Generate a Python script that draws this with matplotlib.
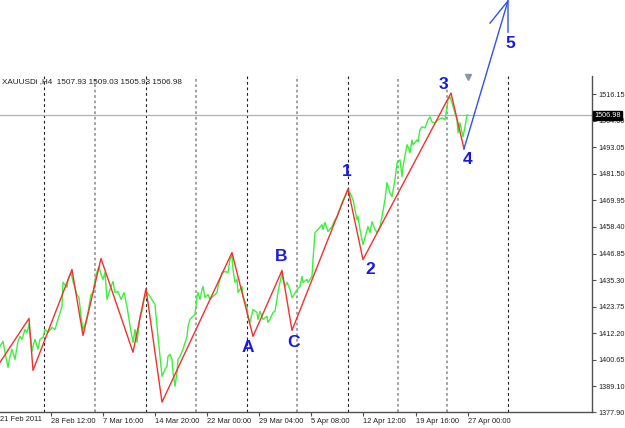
import matplotlib
matplotlib.use("Agg")
import matplotlib.pyplot as plt
from matplotlib import font_manager

# ---- data (x in H4 bar index, y in price) ----
close_x = [0, 1.5, 2.5, 3.5, 4, 5, 6, 7.5, 9, 10, 11, 12.5, 13.5, 14.5, 16, 16.5, 17.5, 19, 20, 21.5,
           22.5, 24, 26, 27.5, 29, 31, 31.5, 33.5, 34, 35.5, 36.5, 38.5, 39.5, 40.5, 41.5, 43, 44, 45.5,
           46.5, 48, 49.5, 50.5, 51.5, 52.5, 53.5, 55, 56.5, 57.5, 59, 60.5, 62, 63.5, 64.5, 65.5, 66.5,
           67.5, 68.5, 70, 71, 72, 73.5, 75, 76.5, 77.5, 78.5, 80, 81, 82.5, 83.5, 84, 85, 86, 86.5, 87.5,
           88.5, 89, 90, 91.5, 93.5, 94, 95, 96.5, 97.5, 98.5, 99, 100, 101, 101.5, 102.5, 104, 105, 106.5,
           108.5, 109, 111, 112.5, 114, 115, 116, 116.5, 117.5, 118.5, 119, 120, 121, 121.5, 122.5, 123.5,
           124, 125, 126.5, 128.5, 129, 130, 131.5, 133.5, 134, 135, 136.5, 137.5, 138.5, 139, 140, 141,
           141.5, 142.5, 143.5, 145, 146, 146.5, 148.5, 150, 151, 151.5, 153.5, 154, 156, 156.5, 157.5, 159,
           161, 161.5, 162.5, 164, 166, 167.5, 168.5, 171, 172.5, 174, 175, 176.5, 178.5, 179, 180, 181.5,
           182.5, 184, 185, 186, 187.5, 188.5, 190, 191, 192.5, 193.5, 195, 196, 197.5, 198.5, 200, 201,
           201.5, 203.5, 204, 205, 206, 206.5, 208.5, 209, 210, 211, 212.5, 214, 215, 216, 217.5, 219, 221,
           222.5, 223.5, 224, 225, 226, 227.5, 228.5, 229, 230, 231.5, 232.5, 233.5, 234]
close_y = [1406.5, 1408.6, 1403.9, 1399.5, 1397.3, 1402.1, 1405.2, 1400.8, 1408.6, 1410.8, 1409.5, 1413.8,
           1412.5, 1416.0, 1404.3, 1406.5, 1409.5, 1405.2, 1409.5, 1410.4, 1413.8, 1412.5, 1414.7, 1413.8,
           1418.2, 1423.8, 1434.3, 1432.1, 1435.6, 1438.6, 1434.7, 1429.0, 1427.7, 1419.5, 1413.8, 1417.3,
           1421.2, 1429.0, 1429.9, 1437.7, 1441.2, 1437.7, 1435.6, 1438.6, 1426.9, 1431.2, 1434.7, 1429.9,
           1430.3, 1426.9, 1429.9, 1423.8, 1418.2, 1413.0, 1408.2, 1413.8, 1408.2, 1419.5, 1421.7, 1426.9,
           1429.9, 1428.2, 1426.0, 1424.7, 1415.1, 1402.1, 1393.4, 1396.5, 1397.8, 1402.1, 1403.0, 1400.8,
           1395.2, 1389.1, 1395.2, 1400.8, 1402.1, 1405.2, 1410.8, 1415.1, 1418.2, 1419.5, 1420.4, 1428.2,
           1429.9, 1426.9, 1431.2, 1432.5, 1427.7, 1429.0, 1426.9, 1428.2, 1429.9, 1432.5, 1438.6, 1439.0,
           1438.6, 1444.2, 1446.4, 1439.9, 1434.3, 1435.6, 1429.9, 1431.2, 1432.5, 1428.2, 1426.0, 1423.8,
           1419.5, 1416.9, 1422.5, 1421.2, 1418.2, 1421.7, 1418.2, 1419.5, 1416.9, 1418.2, 1421.2, 1421.7,
           1426.9, 1430.3, 1434.3, 1438.6, 1435.6, 1432.5, 1434.3, 1431.2, 1427.7, 1428.2, 1431.2, 1432.5,
           1436.9, 1434.3, 1435.6, 1434.3, 1436.9, 1444.2, 1456.0, 1457.3, 1459.4, 1457.3, 1460.3, 1456.4,
           1458.6, 1461.6, 1462.9, 1469.0, 1471.6, 1474.6, 1473.3, 1470.3, 1461.6, 1462.9, 1457.3, 1450.7,
           1453.8, 1458.6, 1456.0, 1460.7, 1457.3, 1456.0, 1458.6, 1462.9, 1470.3, 1477.7, 1473.3, 1471.6,
           1479.0, 1486.3, 1487.6, 1480.3, 1484.6, 1494.2, 1493.3, 1490.7, 1496.3, 1494.2, 1496.3, 1495.5,
           1500.7, 1502.0, 1501.5, 1505.0, 1506.3, 1504.1, 1503.7, 1505.0, 1505.9, 1505.0, 1510.6, 1513.7,
           1515.0, 1512.4, 1508.0, 1505.0, 1499.4, 1503.7, 1497.6, 1502.0, 1507.2, 1506.98]

zigzag_x = [0, 14.5, 16.5, 36, 41.5, 50.5, 66.5, 73, 81, 116, 126.5, 141, 146, 174, 181.5, 225.5, 232]
zigzag_y = [1399.5, 1418.6, 1396.0, 1439.9, 1411.2, 1444.7, 1403.9, 1431.6, 1382.2, 1447.3, 1410.8,
            1439.5, 1413.4, 1475.0, 1444.2, 1516.7, 1492.4]

forecast_x = [232, 254]
forecast_y = [1492.4, 1556.8]
arrow_x = [245, 254, 254]
arrow_y = [1547.1, 1556.8, 1543.2]

wave_labels = ["1", "2", "3", "4", "5", "A", "B", "C"]
wave_x = [173.5, 185, 221.5, 234, 255, 124, 140.5, 147]
wave_y = [1482.4, 1439.9, 1520.2, 1487.6, 1538.4, 1406.0, 1445.5, 1408.2]

price_ticks = [1377.90, 1389.10, 1400.65, 1412.20, 1423.75, 1435.30, 1446.85, 1458.40,
               1469.95, 1481.50, 1493.05, 1504.60, 1516.15]
time_tick_x = [25.5, 51.5, 77.5, 103.5, 129.5, 155.5, 181.5, 208, 234]
time_tick_labels = ["28 Feb 12:00", "7 Mar 16:00", "14 Mar 20:00", "22 Mar 00:00", "29 Mar 04:00",
                    "5 Apr 08:00", "12 Apr 12:00", "19 Apr 16:00", "27 Apr 00:00"]
first_time_label = "21 Feb 2011"
first_time_x = 0.0

sep_major_x = [22, 73, 123.5, 174, 254]
sep_minor_x = [47.5, 98, 148.5, 199, 223.5]

last_price = 1506.98
header = "XAUUSDi ,H4  1507.93 1509.03 1505.93 1506.98"

# ---- fonts ----
installed = {f.name for f in font_manager.fontManager.ttflist}
small_font = "Liberation Sans Narrow" if "Liberation Sans Narrow" in installed else "Liberation Sans"
small_size = 6.5 if small_font == "Liberation Sans Narrow" else 5.4
ylab_size = 6.3 if small_font == "Liberation Sans Narrow" else 5.2
label_font = "Liberation Sans"

# ---- figure ----
W, H = 625, 428
fig = plt.figure(figsize=(W / 100, H / 100), dpi=100)
fig.patch.set_facecolor("white")
ax = fig.add_axes([0, (H - 412) / H, 592 / W, (412 - 76) / H])
ax.set_facecolor("white")
ax.set_xlim(0, 296)
ax.set_ylim(1378.26, 1524.1)

axis_col = "#505050"

for xv in sep_major_x:
    ax.axvline(xv, color="#202020", lw=0.8, ls=(0, (2.5, 2.5)), zorder=1)
for xv in sep_minor_x:
    ax.axvline(xv, color="#9a9a9a", lw=1.3, ls=(0, (1.5, 1.5)), zorder=1)

ax.axhline(last_price, color="#a9b1c6", lw=0.9, zorder=1)

ax.plot(close_x, close_y, color="#3cf03c", lw=1.0, zorder=3)
ax.plot(zigzag_x, zigzag_y, color="#f23030", lw=1.0, zorder=4)
ax.plot(forecast_x, forecast_y, color="#3050f0", lw=1.0, zorder=4, clip_on=False)
ax.plot(arrow_x, arrow_y, color="#3050f0", lw=1.0, zorder=4, clip_on=False)

for t, xv, yv in zip(wave_labels, wave_x, wave_y):
    ax.text(xv, yv, t, color="#1a1ae6", fontsize=12.5, fontweight="bold", family=label_font,
            ha="center", va="center", zorder=6, clip_on=False)

ax.plot([234], [1523.6], marker="v", color="#8a96a8", markersize=5, clip_on=False, zorder=6)

# spines
for s in ("left", "top"):
    ax.spines[s].set_visible(False)
for s in ("right", "bottom"):
    ax.spines[s].set_color(axis_col)
    ax.spines[s].set_linewidth(1.0)

ax.yaxis.tick_right()
ax.set_yticks(price_ticks)
ax.set_yticklabels([f"{v:.2f}" for v in price_ticks])
ax.tick_params(axis="y", direction="out", length=3, width=0.8, color=axis_col, pad=1.5,
               labelsize=ylab_size, labelcolor="#202020")
for lab in ax.get_yticklabels():
    lab.set_family(small_font)

ax.set_xticks(time_tick_x)
ax.set_xticklabels(time_tick_labels)
ax.tick_params(axis="x", direction="out", length=3, width=0.8, color=axis_col, pad=1,
               labelsize=small_size, labelcolor="#202020")
for lab in ax.get_xticklabels():
    lab.set_family(small_font)
    lab.set_horizontalalignment("left")

ax.text(first_time_x, -0.013, first_time_label, transform=ax.get_xaxis_transform(),
        ha="left", va="top", fontsize=small_size, family=small_font, color="#202020", clip_on=False)

ax.annotate(f"{last_price:.2f}", xy=(1.0, last_price), xycoords=("axes fraction", "data"),
            xytext=(1.5, 0), textcoords="offset points", ha="left", va="center",
            fontsize=ylab_size, family=small_font, color="white", zorder=10, annotation_clip=False,
            bbox=dict(boxstyle="square,pad=0.15", facecolor="black", edgecolor="black"))

fig.text(2 / W, 1 - 82 / H, header, ha="left", va="center", fontsize=small_size * 1.08,
         family=small_font, color="#202020")

fig.savefig("out.png", dpi=100, facecolor="white")
